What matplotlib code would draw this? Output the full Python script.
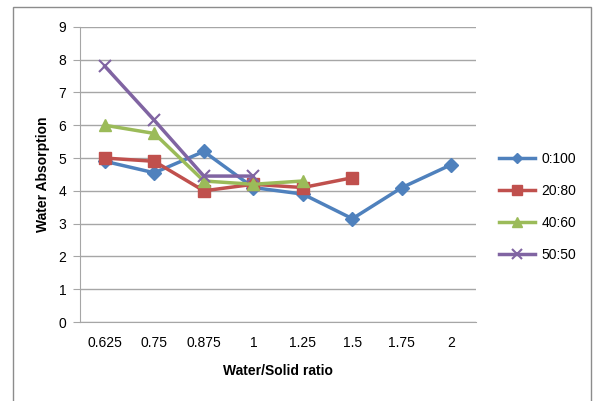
import matplotlib.pyplot as plt
import numpy as np

categories = ['0.625', '0.75', '0.875', '1', '1.25', '1.5', '1.75', '2']
s_0_100 = [4.9, 4.55, 5.2, 4.1, 3.9, 3.15, 4.1, 4.8]
s_20_80 = [5.0, 4.9, 4.0, 4.2, 4.1, 4.4]
s_40_60 = [6.0, 5.75, 4.3, 4.2, 4.3]
s_50_50 = [7.8, 6.15, 4.45, 4.45]

plt.rcParams['font.family'] = ['Liberation Sans', 'DejaVu Sans']

fig = plt.figure(figsize=(5.93, 4.01), dpi=100)
ax = fig.add_axes([0.135, 0.197, 0.668, 0.736])

x = np.arange(len(categories))
ax.plot(x[:len(s_0_100)], s_0_100, color='#4F81BD', lw=2.5, marker='D', ms=7, label='0:100')
ax.plot(x[:len(s_20_80)], s_20_80, color='#C0504D', lw=2.5, marker='s', ms=9, label='20:80')
ax.plot(x[:len(s_40_60)], s_40_60, color='#9BBB59', lw=2.5, marker='^', ms=9, label='40:60')
ax.plot(x[:len(s_50_50)], s_50_50, color='#8064A2', lw=2.5, marker='x', ms=9, mew=1.5, label='50:50')

ax.set_xlim(-0.5, len(categories) - 0.5)
ax.set_ylim(0, 9)
ax.set_xticks(x)
ax.set_xticklabels(categories)
ax.set_yticks(range(0, 10))
ax.yaxis.grid(True, color='#A6A6A6', lw=1)
ax.set_axisbelow(True)
ax.tick_params(axis='x', length=0, labelsize=10, pad=10)
ax.tick_params(axis='y', length=5, direction='out', color='#A6A6A6', labelsize=10, pad=5)
for s in ['top', 'right']:
    ax.spines[s].set_visible(False)
ax.spines['left'].set_color('#A6A6A6')
ax.spines['bottom'].set_color('#A6A6A6')

ax.set_xlabel('Water/Solid ratio', fontweight='bold', fontsize=10, labelpad=10)
ax.set_ylabel('Water Absorption', fontweight='bold', fontsize=10, labelpad=6)

ax.legend(loc='center left', bbox_to_anchor=(1.025, 0.39), frameon=False, fontsize=10,
          handlelength=2.6, handletextpad=0.5, labelspacing=1.3, markerscale=0.8)

# outer chart border (bottom edge lies outside the image)
fig.add_artist(plt.Rectangle((13 / 593, -0.05), 578 / 593, 1.05 - 7 / 401,
                             transform=fig.transFigure, fill=False,
                             edgecolor='#8C8C8C', lw=1))

plt.savefig('out.png')
